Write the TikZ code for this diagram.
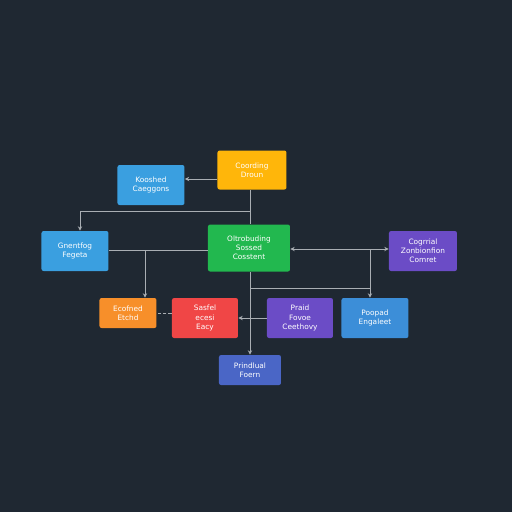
\documentclass[tikz,border=0pt]{standalone}
\usepackage{fontspec}
\setmainfont{DejaVu Sans}
\usetikzlibrary{arrows.meta}

\definecolor{bg}{HTML}{1F2832}
\definecolor{wire}{HTML}{A9AEB3}
\definecolor{cyellow}{HTML}{FFB60A}
\definecolor{cblue}{HTML}{3A9FE0}
\definecolor{cgreen}{HTML}{22B84F}
\definecolor{cpurple}{HTML}{6B4CC6}
\definecolor{corange}{HTML}{F78F2A}
\definecolor{cred}{HTML}{F04646}
\definecolor{cblueb}{HTML}{3C8ED8}
\definecolor{cindigo}{HTML}{4A66C6}

\tikzset{
  box/.style={rounded corners=1.2pt, text=white, align=center, inner sep=0pt,
    font=\fontsize{4.2}{5.2}\selectfont},
  wirearrow/.style={draw=wire, line width=0.5pt, -{Stealth[length=2.5pt,width=2.5pt]}},
  wireline/.style={draw=wire, line width=0.5pt}
}

\begin{document}
\begin{tikzpicture}[x=0.02cm,y=-0.02cm]

% BACKGROUND
\fill[bg] (0,0) rectangle (512,512);
\useasboundingbox (0,0) rectangle (512,512);

% NODES
% top row
\node[box,fill=cyellow,minimum width=69*0.02cm,minimum height=39*0.02cm] (core) at (252,170) {Coording\\Droun};
\node[box,fill=cblue,minimum width=67*0.02cm,minimum height=40*0.02cm] (keyed) at (151,185) {Kooshed\\Caeggons};
% middle row
\node[box,fill=cblue,minimum width=67*0.02cm,minimum height=40*0.02cm] (gen) at (75,251) {Gnentfog\\Fegeta};
\node[box,fill=cgreen,minimum width=82*0.02cm,minimum height=47*0.02cm] (hub) at (249,248) {Oltrobuding\\Sossed\\Cosstent};
\node[box,fill=cpurple,minimum width=68*0.02cm,minimum height=40*0.02cm] (conv) at (423,251) {Cogrrial\\Zonbionfion\\Comret};
% lower row
\node[box,fill=corange,minimum width=57*0.02cm,minimum height=30*0.02cm] (eco) at (128,313) {Ecofned\\Etchd};
\node[box,fill=cred,minimum width=66*0.02cm,minimum height=40*0.02cm] (base) at (205,318) {Sasfel\\ecesi\\Eacy};
\node[box,fill=cpurple,minimum width=66*0.02cm,minimum height=40*0.02cm] (field) at (300,318) {Praid\\Fovoe\\Ceethovy};
\node[box,fill=cblueb,minimum width=67*0.02cm,minimum height=40*0.02cm] (prop) at (375,318) {Poopad\\Engaleet};
% bottom
\node[box,fill=cindigo,minimum width=62*0.02cm,minimum height=30*0.02cm] (final) at (250,370) {Prindlual\\Foern};

% CONNECTORS
% core to keyed
\draw[wirearrow] (core.west |- 0,179) -- (keyed.east |- 0,179);
% core down to hub, branch to gen
\draw[wireline] (core.south -| 250,0) -- (hub.north -| 250,0);
\coordinate (jtop) at (250,211);
\draw[wireline] (jtop) -- (80,211);
\draw[wirearrow] (80,211) -- (gen.north -| 80,0);
% gen to hub, branch to eco
\draw[wireline] (gen.east |- 0,250) -- (hub.west |- 0,250);
\coordinate (jleft) at (145,250);
\draw[wirearrow] (jleft) -- (eco.north -| 145,0);
% hub and conv
\draw[draw=wire, line width=0.5pt, {Stealth[length=2.5pt,width=2.5pt]}-{Stealth[length=2.5pt,width=2.5pt]}]
  (hub.east |- 0,249) -- (conv.west |- 0,249);
% hub down to final, branch to prop
\draw[wirearrow] (hub.south -| 250,0) -- (final.north -| 250,0);
\coordinate (jright) at (370,249);
\draw[wireline] (jright) -- (370,288) -- (250,288);
\draw[wirearrow] (370,288) -- (prop.north -| 370,0);
% field to base
\draw[wirearrow] (field.west |- 0,318) -- (base.east |- 0,318);
% base to eco
\draw[wireline, dashed, dash pattern=on 2pt off 1pt] (base.west |- 0,313) -- (eco.east |- 0,313);

\end{tikzpicture}
\end{document}
